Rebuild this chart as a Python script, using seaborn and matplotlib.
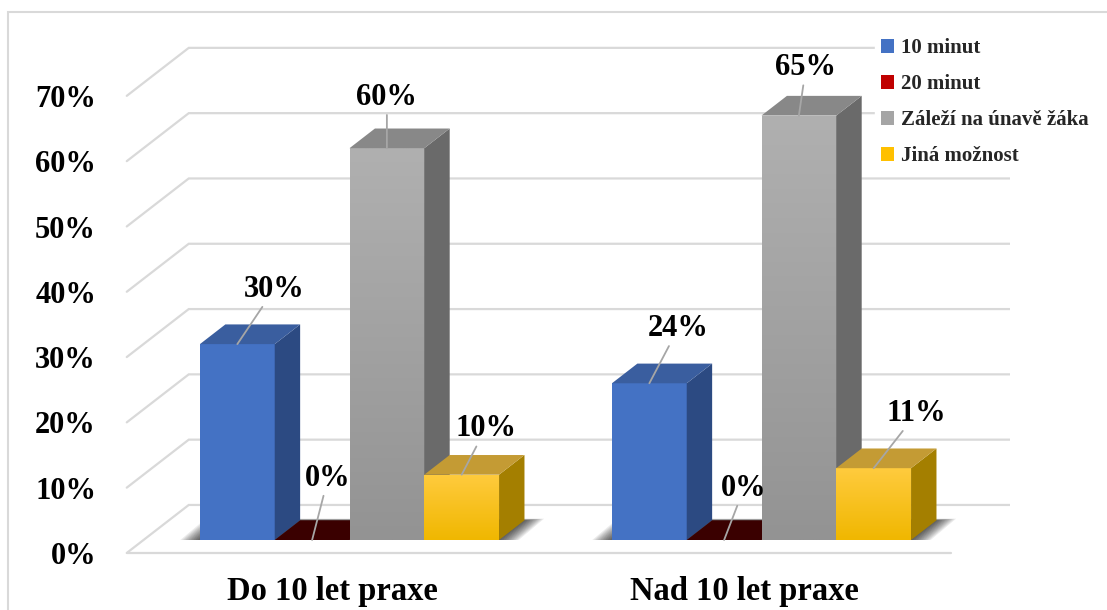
import numpy as np
import pandas as pd
import matplotlib
matplotlib.use("Agg")
import matplotlib.pyplot as plt
import matplotlib.transforms as mtransforms
from matplotlib.patches import Polygon, Rectangle, Patch
import seaborn as sns

# ---- data -------------------------------------------------------------
groups = ["Do 10 let praxe", "Nad 10 let praxe"]
options = ["10 minut", "20 minut", "Záleží na únavě žáka", "Jiná možnost"]
values_do10 = [30, 0, 60, 10]
values_nad10 = [24, 0, 65, 11]
y_ticks = [0, 10, 20, 30, 40, 50, 60, 70]
y_tick_labels = [f"{t}%" for t in y_ticks]

df = pd.DataFrame({
    "group": np.repeat(groups, len(options)),
    "option": options * len(groups),
    "value": values_do10 + values_nad10,
})

# ---- styling ----------------------------------------------------------
front_colors = ["#4472C4", "#C00000", "#A5A5A5", "#FFC000"]
front_grad = [("#4472C4", "#4472C4"), ("#C00000", "#C00000"),
              ("#B0B0B0", "#939393"), ("#FFCB3E", "#F0B700")]
side_colors = ["#2C4A82", "#260000", "#6A6A6A", "#A47F00"]
top_colors = ["#3A5E9F", "#3A0000", "#888888", "#C49B34"]
grid_color = "#D9D9D9"
leader_color = "#A6A6A6"

# label offsets (pixels) from the top-front centre of each bar
label_offsets = [[(37, 55), (16, 62), (0, 51), (24, 46)],
                 [(29, 55), (20, 52), (7, 48), (43, 55)]]

sns.set_theme(style="white")
plt.rcParams["font.family"] = ["Liberation Serif", "DejaVu Serif"]
plt.rcParams["font.weight"] = "bold"

W, H = 1107, 610
fig = plt.figure(figsize=(W / 100, H / 100), dpi=100)
fig.patch.set_facecolor("white")

# axes: x in category units (412 px per unit), y in percent (6.53 px per %)
ax_left, ax_right, ax_top, ax_bottom = 125, 1010, 20, 560
ax = fig.add_axes([ax_left / W, (H - ax_bottom) / H,
                   (ax_right - ax_left) / W, (ax_bottom - ax_top) / H])
PX_X = 412.0
PX_Y = 6.53
x_center0 = 349.5
xlim = ((ax_left - x_center0) / PX_X, (ax_right - x_center0) / PX_X)
ylim = ((540 - ax_bottom) / PX_Y, (540 - ax_top) / PX_Y)

# pseudo-3D depth: full floor depth in data units, bar plane at f0
DX = 62 / PX_X
DY = 48 / PX_Y
f0 = 0.27
fb = 0.41
bdx, bdy = DX * fb, DY * fb


def P(x, y, f):
    return (x + DX * (f - f0), y + DY * (f - f0))


# back wall / floor grid lines
for v in y_ticks:
    pts = np.array([P(-0.5, v, 0), P(-0.5, v, 1), P(1.5, v, 1)])
    ax.plot(pts[:, 0], pts[:, 1], color=grid_color, lw=1.6, zorder=1,
            solid_joinstyle="miter")
fl = np.array([P(-0.5, 0, 0), P(1.5, 0, 0)])
ax.plot(fl[:, 0], fl[:, 1], color=grid_color, lw=1.6, zorder=1)

# front faces of the bars
sns.barplot(data=df, x="group", y="value", hue="option", order=groups,
            hue_order=options, palette=front_colors, width=0.726,
            saturation=1, linewidth=0, legend=False, ax=ax)

# soft floor shadows under each group
conts = ax.containers
for g in range(len(groups)):
    rects = [conts[i][g] for i in range(len(options))]
    gx0 = rects[0].get_x()
    gx1 = rects[-1].get_x() + rects[-1].get_width()
    for k in range(12):
        e = (1 + k * 1.7) / PX_X
        ey = (k * 0.15) / PX_Y
        poly = [(gx0 - e, 0), (gx1 + e, 0),
                (gx1 + bdx + e, bdy + ey), (gx0 + bdx - e, bdy + ey)]
        ax.add_patch(Polygon(poly, closed=True, facecolor="black",
                             edgecolor="none", alpha=0.075, zorder=2))

# side and top faces, gradients and value labels
for i, cont in enumerate(conts):
    z = 3 + i
    for g, rect in enumerate(cont):
        x0 = rect.get_x()
        w = rect.get_width()
        h = rect.get_height()
        x1 = x0 + w
        rect.set_zorder(z)
        top_c, bot_c = front_grad[i]
        if h > 0 and top_c != bot_c:
            cmap = matplotlib.colors.LinearSegmentedColormap.from_list(
                "f", [bot_c, top_c])
            grad = np.linspace(0, 1, 256).reshape(-1, 1)
            im = ax.imshow(grad, extent=[x0, x1, 0, h], origin="lower",
                           aspect="auto", cmap=cmap, zorder=z + 0.01,
                           interpolation="bilinear")
            im.set_clip_path(rect)
        side = [(x1, 0), (x1, h), (x1 + bdx, h + bdy), (x1 + bdx, bdy)]
        top = [(x0, h), (x1, h), (x1 + bdx, h + bdy), (x0 + bdx, h + bdy)]
        ax.add_patch(Polygon(side, closed=True, facecolor=side_colors[i],
                             edgecolor="none", zorder=z + 0.02))
        ax.add_patch(Polygon(top, closed=True, facecolor=top_colors[i],
                             edgecolor="none", zorder=z + 0.02))
        dxp, dyp = label_offsets[g][i]
        ax.annotate(f"{h:.0f}%", xy=(x0 + w / 2, h), xytext=(dxp, dyp),
                    textcoords="offset pixels", ha="center", va="center",
                    fontsize=22, fontweight="bold", color="black",
                    arrowprops=dict(arrowstyle="-", color=leader_color,
                                    lw=1.3, shrinkA=0, shrinkB=0),
                    zorder=10)

ax.set_xlim(*xlim)
ax.set_ylim(*ylim)
ax.set_xticks([])
ax.set_yticks([])
ax.set_xlabel("")
ax.set_ylabel("")
for s in ax.spines.values():
    s.set_visible(False)
ax.patch.set_alpha(0)

# value axis labels at the front edge of the floor
ytf = mtransforms.blended_transform_factory(ax.transAxes, ax.transData) + \
    mtransforms.Affine2D().translate(-29, -13)
for t, lab in zip(y_ticks, y_tick_labels):
    ax.text(0, t, lab, transform=ytf, ha="right", va="center_baseline",
            fontsize=22, fontweight="bold", color="black")

# category labels below the floor front edge
xtf = ax.transData + mtransforms.Affine2D().translate(-17, -60)
for gi, gname in enumerate(groups):
    ax.text(gi, 0, gname, transform=xtf, ha="center", va="baseline",
            fontsize=23.5, fontweight="bold", color="black")

# legend
handles = [Patch(facecolor=c, edgecolor="none") for c in front_colors]
leg = fig.legend(handles, options, loc="upper left",
                 bbox_to_anchor=(875 / W, 1 - 32 / H), frameon=True,
                 facecolor="white", edgecolor="white", framealpha=1,
                 prop=dict(family="Liberation Serif", weight="bold", size=15),
                 handlelength=0.6, handleheight=0.6, handletextpad=0.35,
                 labelspacing=0.77, borderpad=0.3, borderaxespad=0)

# outer chart border
fig.add_artist(Rectangle((8 / W, -0.1), 1.2, 1.1 - 12 / H,
                         transform=fig.transFigure, fill=False,
                         edgecolor=grid_color, lw=1.5))

fig.savefig("out.png", dpi=100)
